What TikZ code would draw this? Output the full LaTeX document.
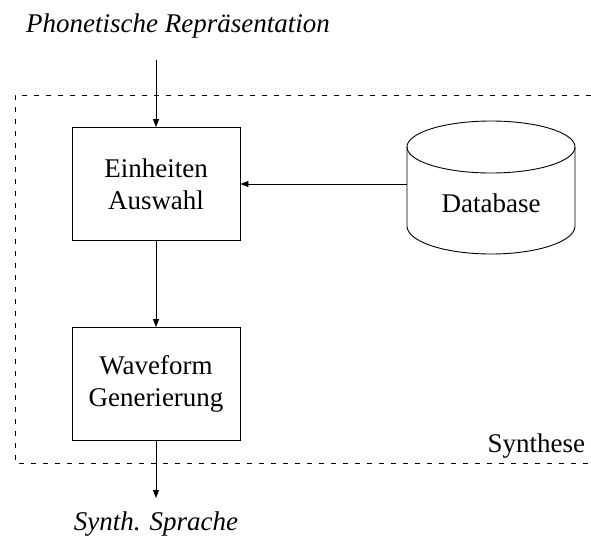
\documentclass[tikz,border=0pt]{standalone}
\usepackage{fontspec}
\setmainfont{Liberation Serif}
\usetikzlibrary{arrows.meta}
\begin{document}
\begin{tikzpicture}[x=1pt,y=-1pt,line width=0.9pt,
  font=\fontsize{27}{32}\selectfont,
  block/.style={draw,minimum width=168pt,minimum height=113pt,align=center,inner sep=0pt},
  flow/.style={-{Triangle[length=8pt,width=6pt]}},
  frame/.style={dash pattern=on 5pt off 7pt}]
\useasboundingbox (0,0) rectangle (591,542);

% outer dashed region of the synthesis stage
\draw[frame] (591,95) -- (15,95) -- (15,463) -- (591,463);
\node[anchor=base east] (syn) at (589,452) {Synthese};

% processing blocks
\node[block] (sel) at (156,184) {Einheiten\\Auswahl};
\node[block] (wave) at (156,384) {Waveform\\Generierung};

% database cylinder
\draw (407,147) -- (407,226) arc[start angle=180,end angle=0,x radius=84,y radius=28] -- (575,147);
\draw (491,147) ellipse[x radius=84,y radius=26];
\node[anchor=base] (db) at (491,212) {Database};
\coordinate (dbin) at (407,184);

% input and output labels
\node[anchor=base,font=\fontsize{27}{32}\selectfont\itshape] (inp) at (178,32) {Phonetische Repräsentation};
\node[anchor=base,font=\fontsize{27}{32}\selectfont\itshape] (outp) at (156,530) {Synth. Sprache};
\coordinate (inpend) at (156,60);
\coordinate (outend) at (156,498);

% connectors
\draw[flow] (inpend) -- (sel.north);
\draw[flow] (dbin) -- (sel.east);
\draw[flow] (sel.south) -- (wave.north);
\draw[flow] (wave.south) -- (outend);
\end{tikzpicture}
\end{document}
